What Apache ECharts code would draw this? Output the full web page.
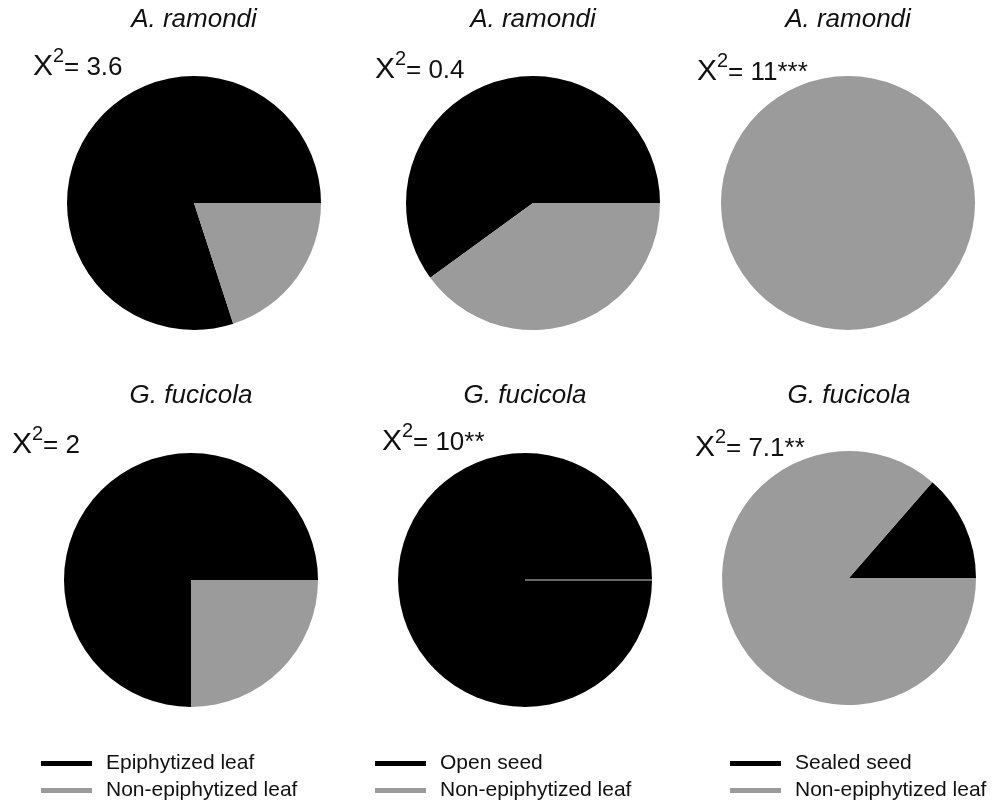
<!DOCTYPE html>
<html>
<head>
<meta charset="utf-8">
<script src="https://cdn.jsdelivr.net/npm/echarts@6/dist/echarts.min.js"></script>
<style>html,body{margin:0;padding:0;background:#fff}#c{width:1000px;height:803px}</style>
</head>
<body>
<div id="c"></div>
<script>
// ---- data ----
const titles = ['A. ramondi', 'A. ramondi', 'A. ramondi', 'G. fucicola', 'G. fucicola', 'G. fucicola'];
const chiValues = ['3.6', '0.4', '11***', '2', '10**', '7.1**'];
const darkNames = ['Epiphytized leaf', 'Open seed', 'Sealed seed', 'Epiphytized leaf', 'Open seed', 'Sealed seed'];
const greyName = 'Non-epiphytized leaf';
const darkValues = [80, 60, 0, 75, 100, 13.6];
const greyValues = [20, 40, 100, 25, 0, 86.4];
const legendGroups = [
  ['Epiphytized leaf', 'Non-epiphytized leaf'],
  ['Open seed', 'Non-epiphytized leaf'],
  ['Sealed seed', 'Non-epiphytized leaf']
];

// ---- layout ----
const FONT = '"Liberation Sans", Arial, sans-serif';
const DARK = '#000000', GREY = '#9b9b9b';
const centers = [[194, 203], [533, 203], [848, 203], [191, 580], [525, 580], [849, 578]];
const R = 127;
const titleY = [20, 20, 20, 396, 396, 396];
const chiX = [33, 375, 697, 12, 382, 695];
const chiBase = [77, 80, 82, 455, 452, 458];
const legendX = [41, 375, 730];

const chart = echarts.init(document.getElementById('c'), null, {renderer: 'canvas'});

const series = centers.map((c, i) => ({
  type: 'pie',
  center: c,
  radius: R,
  startAngle: 0,
  clockwise: false,
  silent: true,
  animation: false,
  label: {show: false},
  labelLine: {show: false},
  emphasis: {disabled: true},
  itemStyle: {borderWidth: 0},
  data: [
    {name: darkNames[i], value: darkValues[i],
     itemStyle: {color: DARK, borderWidth: darkValues[i] === 0 ? 1 : 0, borderColor: '#666'}},
    {name: greyName, value: greyValues[i],
     itemStyle: {color: GREY, borderWidth: greyValues[i] === 0 ? 1 : 0, borderColor: '#8a8a8a'}}
  ]
}));

const graphics = [];
centers.forEach((c, i) => {
  graphics.push({
    type: 'text', x: c[0], y: titleY[i],
    style: {text: titles[i], font: 'italic 26px ' + FONT, fill: '#111', align: 'center', verticalAlign: 'middle'}
  });
  const b = chiBase[i];
  graphics.push({
    type: 'text', x: chiX[i], y: b - 10.5,
    style: {text: 'X', font: '30px ' + FONT, fill: '#111', align: 'left', verticalAlign: 'middle'}
  });
  graphics.push({
    type: 'text', x: chiX[i] + 20, y: b - 21,
    style: {text: '2', font: '20px ' + FONT, fill: '#111', align: 'left', verticalAlign: 'middle'}
  });
  graphics.push({
    type: 'text', x: chiX[i] + 31, y: b - 9.2,
    style: {text: '= ' + chiValues[i], font: '26px ' + FONT, fill: '#111', align: 'left', verticalAlign: 'middle'}
  });
});

const legends = legendGroups.map((g, i) => ({
  orient: 'vertical',
  left: legendX[i],
  top: 753,
  padding: 0,
  data: g,
  icon: 'rect',
  itemWidth: 51,
  itemHeight: 5,
  itemGap: 6,
  selectedMode: false,
  itemStyle: {borderWidth: 0},
  textStyle: {fontSize: 21, color: '#111', fontFamily: FONT, padding: [0, 0, 0, 9]}
}));

chart.setOption({
  animation: false,
  backgroundColor: '#ffffff',
  legend: legends,
  series: series,
  graphic: graphics
});
</script>
</body>
</html>
